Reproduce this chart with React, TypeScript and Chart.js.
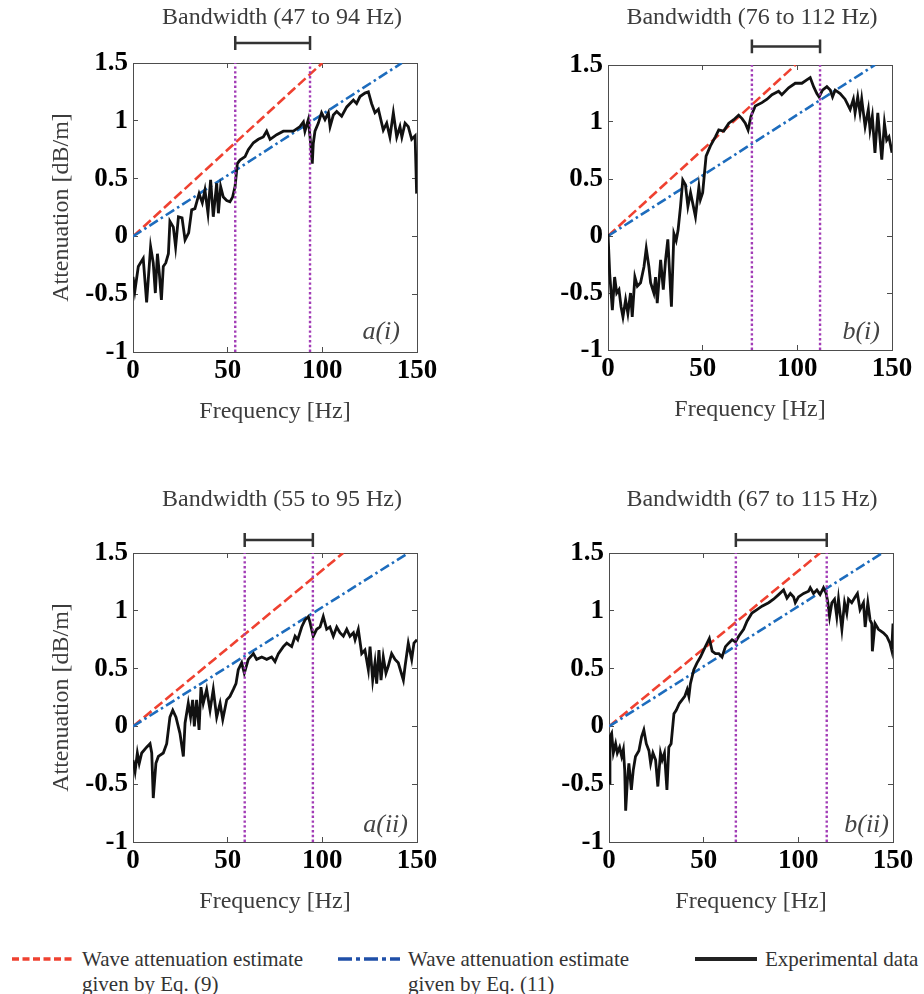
import React, { useEffect, useRef } from "react";
import { Chart, registerables } from "chart.js";

Chart.register(...registerables);

const FONT = '"Liberation Serif", "Times New Roman", serif';

// ---- axis ticks ----
const xTicks = [0, 50, 100, 150];
const yTicks = [-1, -0.5, 0, 0.5, 1, 1.5];

// ---- estimate lines (start at origin, end at 1.5 dB/m) ----
const eqAtt = [0, 1.5];
const a1Eq9Freq = [0, 100];
const a1Eq11Freq = [0, 142];
const b1Eq9Freq = [0, 99];
const b1Eq11Freq = [0, 141];
const a2Eq9Freq = [0, 111];
const a2Eq11Freq = [0, 145.4];
const b2Eq9Freq = [0, 111.5];
const b2Eq11Freq = [0, 144.4];

// ---- bandwidth markers (Hz) ----
const a1Band = [54, 93.5];
const b1Band = [76, 112];
const a2Band = [59, 95];
const b2Band = [67, 115];

const a1Title = "Bandwidth (47 to 94 Hz)";
const b1Title = "Bandwidth (76 to 112 Hz)";
const a2Title = "Bandwidth (55 to 95 Hz)";
const b2Title = "Bandwidth (67 to 115 Hz)";

// ---- experimental data ----
const a1Freq = [0, 1, 2.8, 5.4, 7.2, 9.3, 10.7, 11.8, 12.9, 13.9, 15, 16, 17.3, 18.7, 19.5, 21.3, 22.5, 24, 25.9, 27.5, 29.4, 31, 32.7, 34.9, 36.6, 38, 39.6, 40.3, 41, 42.4, 44.2, 45.1, 46.3, 47.7, 49.5, 51.2, 52.6, 53.9, 55.1, 56.5, 59.2, 60.9, 63.6, 66.2, 68.8, 70.6, 72.4, 75.9, 79.4, 84.7, 88.2, 90, 90.8, 92.6, 93.5, 94.7, 95.2, 96.1, 97.9, 99.6, 101.4, 103.2, 104.1, 105.8, 107.6, 110.2, 112.9, 116.4, 118.1, 119.9, 122.5, 124.3, 126, 127.8, 129.6, 132.2, 134, 135.7, 137.5, 139.3, 141, 142, 143.7, 145.4, 147.2, 149, 149.8];
const a1Att = [-0.35, -0.47, -0.26, -0.19, -0.57, -0.09, -0.23, -0.49, -0.15, -0.32, -0.55, -0.26, -0.23, -0.15, 0.13, 0.08, -0.09, 0.17, 0.16, -0.03, 0.03, 0.23, 0.24, 0.37, 0.29, 0.4, 0.2, 0.35, 0.49, 0.17, 0.46, 0.2, 0.43, 0.34, 0.31, 0.3, 0.34, 0.43, 0.63, 0.66, 0.69, 0.75, 0.81, 0.84, 0.86, 0.91, 0.84, 0.88, 0.91, 0.91, 0.95, 0.99, 0.91, 1.01, 0.86, 0.63, 0.8, 0.91, 0.98, 1.07, 1.01, 1.07, 0.95, 1.05, 1.08, 1.04, 1.12, 1.18, 1.15, 1.21, 1.24, 1.25, 1.15, 1.07, 1.1, 0.92, 0.98, 0.86, 1.07, 0.86, 0.95, 0.86, 0.98, 0.95, 0.84, 0.87, 0.37];

const b1Freq = [0, 0.9, 2.3, 3.5, 4.6, 5.8, 6.9, 7.9, 9.3, 10.5, 11.9, 12.8, 14.2, 15.5, 17.2, 19, 20.2, 21.6, 22.5, 24.2, 25.1, 26, 27.8, 29.2, 30.4, 31.6, 33.5, 34.8, 36, 37, 38.3, 39.5, 40.9, 42.2, 43.6, 46.2, 48, 48.8, 50, 51.8, 54.1, 56.7, 58.5, 61.1, 63.8, 66.4, 69, 70.8, 72.5, 74, 75.5, 77.8, 81.3, 84, 86.6, 90.1, 91.8, 95.4, 98.9, 102.4, 105, 106.8, 108.6, 110.3, 111.5, 113.3, 115.6, 117.4, 118.6, 120, 122.6, 125.2, 127.9, 129.6, 130.5, 131.9, 133.1, 134, 135.8, 137.5, 138.4, 139.6, 141, 142.5, 144.6, 146, 147.2, 148.4, 150];
const b1Att = [0.02, -0.33, -0.65, -0.36, -0.5, -0.47, -0.62, -0.71, -0.56, -0.68, -0.5, -0.71, -0.36, -0.44, -0.41, -0.27, -0.11, -0.27, -0.41, -0.5, -0.36, -0.59, -0.21, -0.47, -0.21, -0.03, -0.62, 0.02, -0.04, 0.05, 0.26, 0.49, 0.45, 0.26, 0.38, 0.17, 0.43, 0.32, 0.38, 0.7, 0.79, 0.87, 0.93, 0.92, 0.99, 1.02, 1.06, 1.03, 0.99, 0.93, 1.05, 1.14, 1.17, 1.2, 1.24, 1.27, 1.24, 1.3, 1.34, 1.34, 1.37, 1.39, 1.31, 1.25, 1.22, 1.28, 1.31, 1.28, 1.22, 1.28, 1.25, 1.2, 1.11, 1.2, 1.08, 1.22, 1.08, 1.2, 0.96, 1.11, 0.93, 1.05, 0.73, 1.08, 0.67, 0.99, 0.84, 0.87, 0.73];

const a2Freq = [0, 1.1, 2.3, 3.3, 4.6, 7.2, 9, 9.9, 10.7, 12.1, 13.4, 16, 17.8, 19.5, 21, 22.7, 24.8, 26.6, 27.5, 29.2, 30.4, 31.5, 32.4, 33.6, 34.9, 35.9, 37.1, 38.9, 40.7, 42.4, 44.2, 46, 47.4, 49.5, 51.2, 53, 54.4, 55.6, 57.4, 58.8, 60.9, 63.6, 65.3, 68, 70.6, 73.2, 75, 76.8, 79.4, 81.2, 83.8, 85.6, 87, 89.1, 90.8, 92.6, 93.5, 95.2, 97, 98.8, 100.5, 102.3, 104, 105.8, 107.6, 109.3, 111.1, 112.9, 114.6, 116.4, 117.3, 119, 120.8, 122.5, 124.3, 125.2, 126.6, 127.8, 128.7, 129.9, 131, 132.2, 133.6, 134.8, 136.6, 138.4, 140.1, 142.8, 143.7, 145.4, 147.2, 148.4, 150];
const a2Att = [-0.29, -0.39, -0.23, -0.32, -0.23, -0.18, -0.15, -0.23, -0.62, -0.32, -0.26, -0.23, -0.15, 0.08, 0.14, 0.08, -0.06, -0.26, 0.03, 0.2, 0.08, 0.23, 0.0, 0.23, -0.03, 0.34, 0.2, 0.32, 0.14, 0.32, 0.08, 0.2, 0.06, 0.23, 0.26, 0.32, 0.37, 0.49, 0.55, 0.46, 0.58, 0.63, 0.58, 0.6, 0.58, 0.6, 0.56, 0.63, 0.69, 0.72, 0.69, 0.78, 0.75, 0.86, 0.92, 0.95, 0.9, 0.78, 0.84, 0.86, 0.95, 0.84, 0.86, 0.78, 0.86, 0.81, 0.78, 0.84, 0.78, 0.81, 0.75, 0.84, 0.63, 0.66, 0.49, 0.69, 0.4, 0.55, 0.37, 0.66, 0.4, 0.6, 0.46, 0.52, 0.63, 0.58, 0.55, 0.4, 0.52, 0.72, 0.58, 0.72, 0.75];

const b2Freq = [0, 0.5, 1.4, 2.3, 3.5, 4.4, 5.6, 6.7, 7.6, 8.3, 8.8, 9.7, 10.5, 11.8, 12.8, 14, 15.8, 17.2, 18.4, 19.7, 21.1, 22, 23.2, 24.6, 25.8, 27.2, 28.1, 29.3, 30.6, 31.6, 32.8, 34.3, 35.5, 37.2, 38.6, 40, 41.3, 42.2, 43, 44.8, 46.5, 48.3, 50, 51.8, 53, 54.5, 56.2, 58, 59.7, 61.5, 63.2, 65, 66.8, 68.5, 71.1, 72.9, 75.5, 78.2, 80.8, 84.3, 86.9, 89.6, 92.2, 94, 95.8, 97.5, 98.4, 100.1, 102.8, 105.4, 106.3, 108, 109.8, 111.5, 113.3, 114.7, 115.6, 116.5, 117.7, 119.1, 120.3, 121.2, 123, 124.4, 125.6, 126.5, 128.2, 130, 131.2, 132.6, 134.4, 135.3, 136.7, 137.9, 138.8, 139.1, 140.5, 142.3, 144.9, 146.7, 148.4, 149.3, 150];
const b2Att = [-0.49, -0.09, -0.06, -0.23, -0.15, -0.23, -0.18, -0.26, -0.2, -0.38, -0.73, -0.47, -0.32, -0.55, -0.38, -0.26, -0.21, -0.09, -0.03, -0.15, -0.21, -0.32, -0.23, -0.29, -0.52, -0.23, -0.29, -0.23, -0.55, -0.18, -0.15, 0.11, 0.14, 0.2, 0.23, 0.26, 0.32, 0.26, 0.37, 0.49, 0.55, 0.6, 0.66, 0.72, 0.76, 0.65, 0.63, 0.63, 0.6, 0.69, 0.72, 0.75, 0.73, 0.78, 0.84, 0.91, 0.98, 1.01, 1.04, 1.07, 1.1, 1.14, 1.18, 1.11, 1.15, 1.12, 1.07, 1.12, 1.15, 1.17, 1.2, 1.15, 1.18, 1.14, 1.2, 1.15, 1.07, 0.95, 1.07, 1.1, 0.95, 1.1, 0.84, 1.07, 0.98, 1.1, 1.07, 1.12, 1.15, 1.01, 1.07, 0.86, 1.07, 0.92, 0.89, 0.65, 0.89, 0.84, 0.81, 0.78, 0.72, 0.66, 0.89];

// ---- colours ----
const RED = "#ef4130";
const BLUE = "#1d6cbd";
const BLACK = "#111111";
const PURPLE = "#a23cb6";
const AXIS = "#4d4d4d";

const toXY = (xs: number[], ys: number[]) => xs.map((x, i) => ({ x, y: ys[i] }));

const panelTextPlugin = {
  id: "panelText",
  afterDraw(chart: any, _args: any, opts: any) {
    const { ctx, chartArea } = chart;
    ctx.save();
    ctx.fillStyle = "#3c3c3c";
    ctx.font = `24px ${FONT}`;
    ctx.textAlign = "center";
    ctx.textBaseline = "middle";
    ctx.fillText(opts.title, opts.titleX, opts.titleY);
    ctx.fillStyle = "#444444";
    ctx.font = `italic 26px ${FONT}`;
    ctx.textAlign = "right";
    ctx.fillText(opts.tag, chartArea.right - opts.tagDx, chartArea.bottom - opts.tagDy);
    ctx.restore();
  },
};

type PanelCfg = {
  x: number; y: number; w: number; h: number;
  plot: { l: number; t: number; r: number; b: number };
  yTitle: boolean;
  title: string; titleX: number; titleY: number;
  tag: string; tagDx: number; tagDy: number;
  freq: number[]; att: number[];
  eq9: number[]; eq11: number[];
  band: number[]; bracketY: number;
};

function Panel({ cfg }: { cfg: PanelCfg }) {
  const ref = useRef<HTMLCanvasElement | null>(null);
  useEffect(() => {
    const { w, h, plot } = cfg;
    const tickFont = { family: FONT, size: 27, weight: "bold" as const };
    const border = { display: true, color: AXIS, width: 1 };
    const grid = { drawOnChartArea: false, drawTicks: true, tickLength: -5, color: AXIS, lineWidth: 1 };
    const setX = (s: any) => { s.ticks = xTicks.map((v) => ({ value: v })); };
    const setY = (s: any) => { s.ticks = yTicks.map((v) => ({ value: v })); };

    // bracket drawn above the plot: caps + bar, in data units
    const cap = 0.06;
    const by = cfg.bracketY;
    const bracketX = [cfg.band[0], cfg.band[0], cfg.band[0], cfg.band[1], cfg.band[1], cfg.band[1]];
    const bracketYs = [by + cap, by - cap, by, by, by + cap, by - cap];

    const chart = new Chart(ref.current as HTMLCanvasElement, {
      type: "line",
      data: {
        datasets: [
          {
            label: "bandwidth",
            data: toXY(bracketX, bracketYs),
            borderColor: "#333333",
            borderWidth: 2.5,
            pointRadius: 0,
            clip: false,
          } as any,
          {
            label: "band low",
            data: toXY([cfg.band[0], cfg.band[0]], [yTicks[0], yTicks[yTicks.length - 1]]),
            borderColor: PURPLE,
            borderWidth: 2.4,
            borderDash: [2.4, 2.4],
            pointRadius: 0,
          },
          {
            label: "band high",
            data: toXY([cfg.band[1], cfg.band[1]], [yTicks[0], yTicks[yTicks.length - 1]]),
            borderColor: PURPLE,
            borderWidth: 2.4,
            borderDash: [2.4, 2.4],
            pointRadius: 0,
          },
          {
            label: "Experimental data",
            data: toXY(cfg.freq, cfg.att),
            borderColor: BLACK,
            borderWidth: 2.8,
            pointRadius: 0,
            tension: 0,
          },
          {
            label: "Eq. (11)",
            data: toXY(cfg.eq11, eqAtt),
            borderColor: BLUE,
            borderWidth: 2.6,
            borderDash: [10, 3.5, 2.5, 3.5],
            pointRadius: 0,
          },
          {
            label: "Eq. (9)",
            data: toXY(cfg.eq9, eqAtt),
            borderColor: RED,
            borderWidth: 2.6,
            borderDash: [10, 4],
            pointRadius: 0,
          },
        ],
      },
      options: {
        responsive: false,
        animation: false,
        devicePixelRatio: 1,
        layout: { padding: { left: 0, top: plot.t, right: w - plot.r, bottom: 0 } },
        plugins: {
          legend: { display: false },
          tooltip: { enabled: false },
          panelText: {
            title: cfg.title, titleX: cfg.titleX, titleY: cfg.titleY,
            tag: cfg.tag, tagDx: cfg.tagDx, tagDy: cfg.tagDy,
          },
        } as any,
        scales: {
          x: {
            type: "linear", position: "bottom", min: 0, max: 150,
            afterBuildTicks: setX,
            ticks: { font: tickFont, color: "#000", padding: 8, maxRotation: 0, autoSkip: false, callback: (v: any) => String(v) },
            grid, border,
            title: { display: true, text: "Frequency [Hz]", color: "#3c3c3c", font: { family: FONT, size: 24 }, padding: { top: 0, bottom: h - plot.b - 60 - 14.4 } },
            afterFit: (s: any) => { s.height = h - plot.b; },
          },
          x2: {
            type: "linear", position: "top", min: 0, max: 150,
            afterBuildTicks: setX,
            ticks: { display: false },
            grid, border,
            afterFit: (s: any) => { s.height = 0; },
          },
          y: {
            type: "linear", position: "left", min: -1, max: 1.5,
            afterBuildTicks: setY,
            ticks: { font: tickFont, color: "#000", padding: 10, callback: (v: any) => String(v) },
            grid, border,
            title: { display: cfg.yTitle, text: "Attenuation [dB/m]", color: "#3c3c3c", font: { family: FONT, size: 24 }, padding: { top: 47.3, bottom: 0 } },
            afterFit: (s: any) => { s.width = plot.l; },
          },
          y2: {
            type: "linear", position: "right", min: -1, max: 1.5,
            afterBuildTicks: setY,
            ticks: { display: false },
            grid, border,
            afterFit: (s: any) => { s.width = 0; },
          },
        } as any,
      },
      plugins: [panelTextPlugin],
    });
    return () => chart.destroy();
  }, [cfg]);
  return (
    <canvas
      ref={ref}
      width={cfg.w}
      height={cfg.h}
      style={{ position: "absolute", left: cfg.x, top: cfg.y, width: cfg.w, height: cfg.h }}
    />
  );
}

const panels: PanelCfg[] = [
  {
    x: 0, y: 0, w: 462, h: 440, plot: { l: 133, t: 63, r: 417, b: 352 }, yTitle: true,
    title: a1Title, titleX: 282, titleY: 18, tag: "a(i)", tagDx: 17, tagDy: 20,
    freq: a1Freq, att: a1Att, eq9: a1Eq9Freq, eq11: a1Eq11Freq, band: a1Band, bracketY: 1.673,
  },
  {
    x: 462, y: 0, w: 462, h: 440, plot: { l: 146, t: 65, r: 430, b: 350 }, yTitle: false,
    title: b1Title, titleX: 290, titleY: 18, tag: "b(i)", tagDx: 12, tagDy: 18,
    freq: b1Freq, att: b1Att, eq9: b1Eq9Freq, eq11: b1Eq11Freq, band: b1Band, bracketY: 1.663,
  },
  {
    x: 0, y: 470, w: 462, h: 460, plot: { l: 133, t: 83, r: 417, b: 372 }, yTitle: true,
    title: a2Title, titleX: 282, titleY: 30, tag: "a(ii)", tagDx: 9, tagDy: 17,
    freq: a2Freq, att: a2Att, eq9: a2Eq9Freq, eq11: a2Eq11Freq, band: a2Band, bracketY: 1.612,
  },
  {
    x: 462, y: 470, w: 462, h: 460, plot: { l: 147, t: 83, r: 431, b: 372 }, yTitle: false,
    title: b2Title, titleX: 290, titleY: 30, tag: "b(ii)", tagDx: 4, tagDy: 17,
    freq: b2Freq, att: b2Att, eq9: b2Eq9Freq, eq11: b2Eq11Freq, band: b2Band, bracketY: 1.612,
  },
];

function Legend() {
  const text: React.CSSProperties = {
    position: "absolute",
    font: `21px ${FONT}`,
    color: "#333",
    lineHeight: "25px",
    whiteSpace: "nowrap",
  };
  return (
    <>
      <svg style={{ position: "absolute", left: 12, top: 955 }} width={62} height={8}>
        <line x1={0} y1={4} x2={62} y2={4} stroke={RED} strokeWidth={3.5} strokeDasharray="7 3.5" />
      </svg>
      <div style={{ ...text, left: 82, top: 947 }}>
        Wave attenuation estimate<br />given by Eq. (9)
      </div>
      <svg style={{ position: "absolute", left: 338, top: 955 }} width={62} height={8}>
        <line x1={0} y1={4} x2={62} y2={4} stroke="#1f4fa8" strokeWidth={3.5} strokeDasharray="14 4 4 4" />
      </svg>
      <div style={{ ...text, left: 408, top: 947 }}>
        Wave attenuation estimate<br />given by Eq. (11)
      </div>
      <svg style={{ position: "absolute", left: 695, top: 955 }} width={62} height={8}>
        <line x1={0} y1={4} x2={62} y2={4} stroke="#222" strokeWidth={4} />
      </svg>
      <div style={{ ...text, left: 765, top: 947 }}>Experimental data</div>
    </>
  );
}

export default function App() {
  return (
    <div style={{ position: "absolute", left: 0, top: 0, width: 924, height: 994, background: "#fff", overflow: "hidden" }}>
      {panels.map((p) => (
        <Panel key={p.tag} cfg={p} />
      ))}
      <Legend />
    </div>
  );
}
